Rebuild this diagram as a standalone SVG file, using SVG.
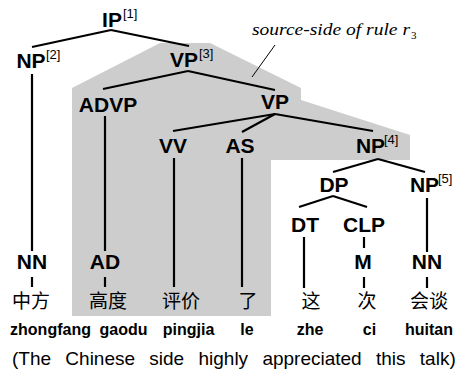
<svg xmlns="http://www.w3.org/2000/svg" width="460" height="372" viewBox="0 0 460 372">
<style>
.lbl{font-family:"Liberation Sans",Arial,sans-serif;font-weight:bold;font-size:21px;text-anchor:middle;fill:#000}
.sup{font-family:"Liberation Sans",Arial,sans-serif;font-size:13px;fill:#000}
.zh{font-family:"Noto Sans CJK SC",sans-serif;font-size:19px;text-anchor:middle;fill:#000}
.py{font-family:"Liberation Sans",Arial,sans-serif;font-weight:bold;font-size:16px;text-anchor:middle;fill:#000}
.gl{font-family:"Liberation Sans",Arial,sans-serif;font-size:19px;fill:#000}
.ann{font-family:"Liberation Serif","Times New Roman",serif;font-style:italic;font-size:17px;fill:#000}
#connectors line{stroke:#000;stroke-width:2.2;fill:none}
</style>
<rect width="460" height="372" fill="#fff"/>
<polygon id="rule-region" points="72,88 160,43 210,43 301,88 301,100 410,135 410,160 271,160 271,316 72,316" fill="#cdcdcd"/>
<g id="annotation">
<line x1="252" y1="77" x2="275" y2="45" stroke="#000" stroke-width="1"/>
<text class="ann" x="252" y="35" textLength="158" lengthAdjust="spacingAndGlyphs">source-side of rule r</text>
<text x="411" y="39" font-family="'Liberation Serif','Times New Roman',serif" font-size="11">3</text>
</g>
<g id="connectors">
<line x1="111" y1="30" x2="32" y2="47"/>
<line x1="111" y1="30" x2="189" y2="46"/>
<line x1="32" y1="74" x2="32" y2="251"/>
<line x1="188" y1="71" x2="103" y2="89"/>
<line x1="188" y1="71" x2="275" y2="90"/>
<line x1="105" y1="116" x2="105" y2="251"/>
<line x1="275" y1="114" x2="173" y2="131"/>
<line x1="275" y1="114" x2="242" y2="132"/>
<line x1="275" y1="114" x2="373" y2="131"/>
<line x1="174" y1="158" x2="174" y2="287"/>
<line x1="242" y1="158" x2="242" y2="287"/>
<line x1="378" y1="159" x2="333" y2="172"/>
<line x1="378" y1="159" x2="425" y2="172"/>
<line x1="333" y1="196" x2="299" y2="207"/>
<line x1="333" y1="196" x2="367" y2="207"/>
<line x1="304" y1="237" x2="304" y2="288"/>
<line x1="364" y1="237" x2="364" y2="248"/>
<line x1="364" y1="277" x2="364" y2="288"/>
<line x1="427" y1="198" x2="427" y2="252"/>
<line x1="427" y1="277" x2="427" y2="288"/>
<line x1="32" y1="277" x2="32" y2="287"/>
<line x1="105" y1="277" x2="105" y2="287"/>
</g>
<g id="n-IP"><text class="lbl" x="112" y="27">IP</text><text class="sup" x="123" y="18">[1]</text></g>
<g id="n-NP2"><text class="lbl" x="31" y="68">NP</text><text class="sup" x="46" y="59">[2]</text></g>
<g id="n-VP3"><text class="lbl" x="184" y="67">VP</text><text class="sup" x="199" y="58">[3]</text></g>
<g id="n-ADVP"><text class="lbl" x="108" y="112">ADVP</text></g>
<g id="n-VP"><text class="lbl" x="275" y="109">VP</text></g>
<g id="n-VV"><text class="lbl" x="173" y="153">VV</text></g>
<g id="n-AS"><text class="lbl" x="240" y="153">AS</text></g>
<g id="n-NP4"><text class="lbl" x="370.5" y="153">NP</text><text class="sup" x="384" y="144">[4]</text></g>
<g id="n-DP"><text class="lbl" x="334" y="192">DP</text></g>
<g id="n-NP5"><text class="lbl" x="424.5" y="192">NP</text><text class="sup" x="438" y="183">[5]</text></g>
<g id="n-DT"><text class="lbl" x="305" y="232">DT</text></g>
<g id="n-CLP"><text class="lbl" x="364" y="232">CLP</text></g>
<g id="n-NN1"><text class="lbl" x="32" y="269">NN</text></g>
<g id="n-AD"><text class="lbl" x="105" y="269">AD</text></g>
<g id="n-M"><text class="lbl" x="363" y="269">M</text></g>
<g id="n-NN2"><text class="lbl" x="427" y="269">NN</text></g>
<g id="w-zhongfang"><text class="zh" x="31" y="308">中方</text><text class="py" x="50.5" y="335">zhongfang</text></g>
<g id="w-gaodu"><text class="zh" x="108" y="308">高度</text><text class="py" x="123.5" y="335">gaodu</text></g>
<g id="w-pingjia"><text class="zh" x="181" y="308">评价</text><text class="py" x="188.5" y="335">pingjia</text></g>
<g id="w-le"><text class="zh" x="248" y="308">了</text><text class="py" x="247" y="335">le</text></g>
<g id="w-zhe"><text class="zh" x="311" y="308">这</text><text class="py" x="310" y="335">zhe</text></g>
<g id="w-ci"><text class="zh" x="367" y="308">次</text><text class="py" x="369.5" y="335">ci</text></g>
<g id="w-huitan"><text class="zh" x="429" y="308">会谈</text><text class="py" x="429" y="335">huitan</text></g>
<text class="gl" x="12" y="365" word-spacing="9">(The Chinese side highly appreciated this talk)</text>
</svg>
